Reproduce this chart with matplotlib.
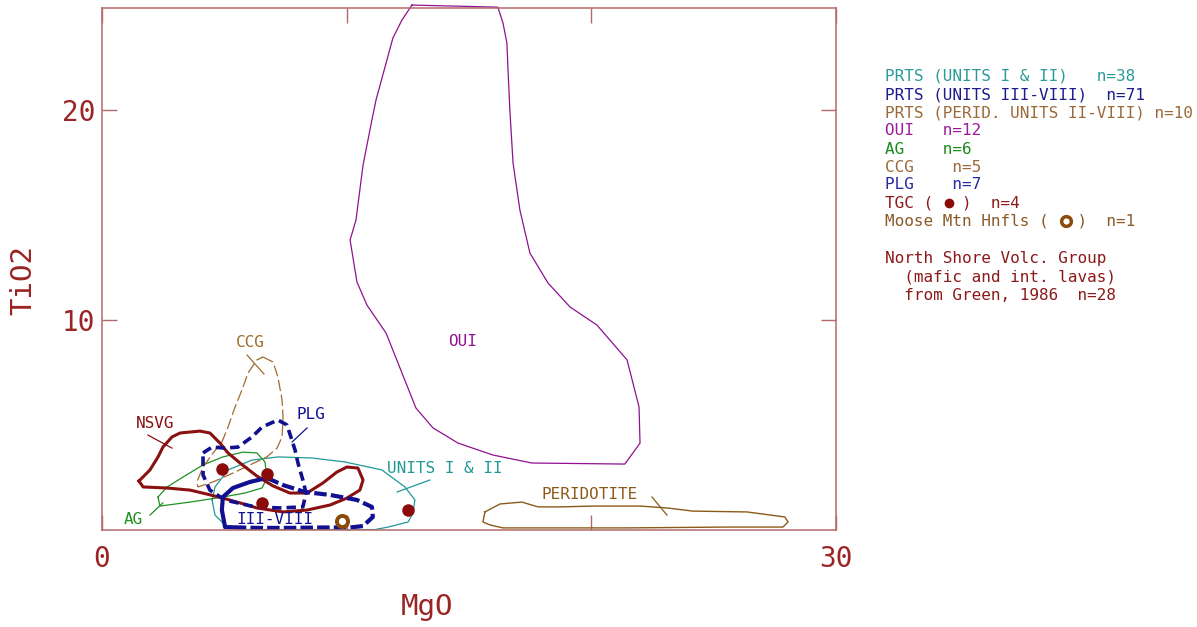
import numpy as np
import matplotlib
matplotlib.use("Agg")
import matplotlib.pyplot as plt

# outlines of compositional fields, MgO vs TiO2 (wt%)
oui_mgo = [12.67, 16.18, 16.39, 16.55, 16.59, 16.67, 16.80, 17.08, 17.49, 18.23, 19.13, 20.23,
           21.46, 21.95, 21.99, 21.37, 17.57, 15.98, 14.55, 13.53, 12.83, 12.26, 11.61, 10.83,
           10.42, 10.14, 10.38, 10.67, 11.03, 11.20, 11.89, 12.26]
oui_tio2 = [25.00, 24.90, 24.14, 23.19, 22.05, 20.00, 17.48, 15.24, 13.19, 11.76, 10.62, 9.76,
            8.10, 5.86, 4.14, 3.14, 3.19, 3.57, 4.14, 4.86, 5.81, 7.48, 9.38, 10.71,
            11.81, 13.81, 14.76, 17.38, 19.52, 20.48, 23.43, 24.29]

perid_mgo = [15.65, 16.27, 17.16, 17.82, 18.72, 20.07, 21.99, 23.09, 24.15, 26.36, 27.91, 28.04,
             27.83, 25.54, 21.46, 18.72, 16.39, 15.86, 15.57]
perid_tio2 = [0.86, 1.24, 1.33, 1.10, 1.10, 1.14, 1.14, 1.05, 0.90, 0.86, 0.62, 0.38,
              0.14, 0.14, 0.10, 0.10, 0.10, 0.24, 0.38]

units12_mgo = [4.50, 4.62, 5.15, 6.13, 7.19, 8.58, 9.93, 11.44, 12.38, 12.79, 12.71, 12.51,
               11.69, 11.16, 8.09, 5.64, 5.15, 4.62]
units12_tio2 = [1.43, 2.05, 2.86, 3.33, 3.48, 3.43, 3.24, 2.86, 2.05, 1.43, 0.81, 0.38,
                0.14, 0.02, 0.02, 0.02, 0.10, 0.71]

ag_mgo = [2.29, 2.66, 3.31, 4.13, 4.94, 5.76, 6.33, 6.66, 6.74, 6.54, 5.84, 4.94, 3.60, 2.37]
ag_tio2 = [1.57, 2.05, 2.52, 3.10, 3.48, 3.71, 3.67, 3.24, 2.48, 2.00, 1.76, 1.57, 1.33, 1.14]

ccg_mgo = [6.58, 6.99, 7.19, 7.36, 7.40, 7.36, 7.15, 6.74, 6.05, 5.35, 4.54, 3.92, 3.88, 4.13,
           4.54, 4.90, 5.15, 5.44, 5.72, 5.97, 6.33]
ccg_tio2 = [8.24, 8.00, 7.29, 6.19, 5.38, 4.43, 3.90, 3.48, 3.10, 2.71, 2.29, 2.05, 2.29, 3.00,
            3.67, 4.19, 4.90, 5.86, 6.67, 7.48, 8.10]

nsvg_mgo = [1.51, 1.96, 2.29, 2.49, 2.86, 3.19, 4.00, 4.41, 4.82, 5.15, 5.64, 6.33, 6.99, 7.68,
            8.38, 9.03, 9.60, 10.01, 10.46, 10.67, 10.54, 10.01, 9.32, 8.38, 7.40, 6.33, 5.64,
            4.94, 4.29, 3.60, 2.66, 1.68]
nsvg_tio2 = [2.33, 2.86, 3.48, 3.95, 4.43, 4.62, 4.71, 4.62, 4.14, 3.67, 3.19, 2.57, 2.10, 1.76,
             1.76, 2.24, 2.76, 3.00, 2.95, 2.38, 1.90, 1.52, 1.19, 0.95, 0.86, 1.05, 1.29,
             1.52, 1.71, 1.90, 2.00, 2.05]

plg_mgo = [4.13, 4.50, 5.03, 5.56, 6.13, 6.54, 7.19, 7.56, 7.72, 7.89, 8.01, 8.21, 8.34, 8.21,
           7.27, 6.25, 5.03, 4.41, 4.13]
plg_tio2 = [3.67, 3.95, 3.90, 3.95, 4.43, 4.90, 5.24, 5.00, 4.43, 3.81, 3.19, 2.38, 1.76, 1.10,
            1.05, 1.10, 1.43, 1.90, 2.62]

# units III-VIII: solid stretch on the left, dashed for the rest
u38_solid_mgo = [5.64, 5.03, 4.90, 4.94, 5.35, 6.05, 6.74]
u38_solid_tio2 = [0.12, 0.14, 0.95, 1.57, 2.00, 2.29, 2.48]
u38_dash_mgo = [6.74, 7.40, 8.30, 9.32, 10.42, 11.03, 11.07, 10.67, 10.14, 9.03, 7.68, 6.33, 5.64]
u38_dash_tio2 = [2.48, 2.14, 1.81, 1.67, 1.43, 1.10, 0.62, 0.19, 0.12, 0.12, 0.10, 0.10, 0.12]

# individual samples
tgc_mgo = [4.90, 6.74, 6.54, 12.50]
tgc_tio2 = [2.90, 2.67, 1.29, 0.95]
moose_mgo = [9.81]
moose_tio2 = [0.43]

legend_lines = [
    ("PRTS (UNITS I & II)   n=38", "#2a9a9a"),
    ("PRTS (UNITS III-VIII)  n=71", "#1c1c8c"),
    ("PRTS (PERID. UNITS II-VIII) n=10", "#9a6a3a"),
    ("OUI   n=12", "#9a1a9a"),
    ("AG    n=6", "#1a8a1a"),
    ("CCG    n=5", "#9a6a3a"),
    ("PLG    n=7", "#2828a0"),
    ("TGC (   )  n=4", "#8b1a1a"),
    ("Moose Mtn Hnfls (   )  n=1", "#8b5a2a"),
]
nsvg_note = ["North Shore Volc. Group", "  (mafic and int. lavas)", "  from Green, 1986  n=28"]

frame_col = "#b46a6a"
text_col = "#9b2424"
mono = "DejaVu Sans Mono"


def closed(x, y):
    return list(x) + [x[0]], list(y) + [y[0]]


fig = plt.figure(figsize=(11.97, 6.27), dpi=100)
ax = fig.add_axes([102 / 1197, 97 / 627, 734 / 1197, 522 / 627])

# fields
ax.plot(*closed(oui_mgo, oui_tio2), color="#901090", lw=0.9, clip_on=False)
ax.plot(*closed(perid_mgo, perid_tio2), color="#8b5a1a", lw=1.0)
ax.plot(*closed(units12_mgo, units12_tio2), color="#209898", lw=0.9)
ax.plot(*closed(ag_mgo, ag_tio2), color="#209020", lw=0.9)
ax.plot(*closed(ccg_mgo, ccg_tio2), color="#a06a30", lw=0.9, ls=(0, (9, 3)))
ax.plot(*closed(nsvg_mgo, nsvg_tio2), color="#8b1010", lw=2.2)
ax.plot(*closed(plg_mgo, plg_tio2), color="#101090", lw=2.6, ls=(0, (2.6, 1.4)))
ax.plot(u38_solid_mgo, u38_solid_tio2, color="#101090", lw=3.0, solid_capstyle="round")
ax.plot(u38_dash_mgo, u38_dash_tio2, color="#101090", lw=3.0, ls=(0, (3, 1)))

# samples
ax.plot(tgc_mgo, tgc_tio2, ls="none", marker="o", ms=8, color="#8b0a0a")
ax.plot(moose_mgo, moose_tio2, ls="none", marker="o", ms=8, mfc="white",
        mec="#8b4a0a", mew=2.8)

# field labels and leaders
lab = dict(family=mono, fontsize=11.5, ha="center", va="center")
ax.text(6.05, 8.95, "CCG", color="#a06a30", **lab)
ax.plot([5.93, 6.62], [8.33, 7.43], color="#a06a30", lw=0.9)
ax.text(2.17, 5.05, "NSVG", color="#8b1010", **lab)
ax.plot([1.88, 2.86], [4.52, 3.90], color="#8b1010", lw=0.9)
ax.text(1.27, 0.52, "AG", color="#209020", **lab)
ax.plot([1.96, 2.49], [0.71, 1.29], color="#209020", lw=0.9)
ax.text(8.54, 5.52, "PLG", color="#101090", **lab)
ax.plot([8.38, 7.77], [4.86, 4.19], color="#101090", lw=0.9)
ax.text(7.07, 0.52, "III-VIII", color="#101090", **lab)
ax.text(14.02, 2.95, "UNITS I & II", color="#209898", **lab)
ax.plot([12.06, 13.40], [1.81, 2.38], color="#209898", lw=0.9)
ax.text(14.75, 9.0, "OUI", color="#901090", **lab)
ax.text(19.94, 1.67, "PERIDOTITE", color="#8b5a1a", **lab)
ax.plot([22.48, 23.09], [1.57, 0.71], color="#8b5a1a", lw=0.9)

# axes
ax.set_xlim(0, 30)
ax.set_ylim(0, 24.86)
ax.set_xticks([0, 10, 20, 30])
ax.set_xticklabels(["0", "", "", "30"])
ax.set_yticks([10, 20])
ax.set_yticklabels(["10", "20"])
ax.tick_params(direction="in", length=11, width=1.0, color=frame_col,
               top=True, right=True, labelcolor=text_col, labelsize=20)
ax.tick_params(axis="x", pad=11)
ax.tick_params(axis="y", pad=5)
for lbl in ax.get_xticklabels() + ax.get_yticklabels():
    lbl.set_family(mono)
for sp in ax.spines.values():
    sp.set_color(frame_col)
    sp.set_linewidth(1.1)

ax.set_xlabel("MgO", family=mono, fontsize=21, color=text_col, va="center")
ax.xaxis.set_label_coords(0.443, -0.1475)
ax.set_ylabel("TiO2", family=mono, fontsize=21, color=text_col, va="center")
ax.yaxis.set_label_coords(-0.107, 0.479)

# legend block
leg_y = [76, 95, 113, 131, 149, 167, 185, 203, 221]
for (txt, col), yy in zip(legend_lines, leg_y):
    fig.text(885 / 1197, 1 - yy / 627, txt, color=col, family=mono, fontsize=11.5,
             ha="left", va="center")
fig.add_artist(plt.Line2D([949 / 1197], [1 - 203 / 627], ls="none", marker="o", ms=6,
                          color="#8b0a0a", transform=fig.transFigure))
fig.add_artist(plt.Line2D([1066 / 1197], [1 - 221 / 627], ls="none", marker="o", ms=7,
                          mfc="white", mec="#8b4a0a", mew=2.5, transform=fig.transFigure))
for i, txt in enumerate(nsvg_note):
    fig.text(885 / 1197, 1 - (259 + 18.5 * i) / 627, txt, color="#8b1a1a", family=mono,
             fontsize=11.5, ha="left", va="center")

fig.savefig("out.png", dpi=100)
